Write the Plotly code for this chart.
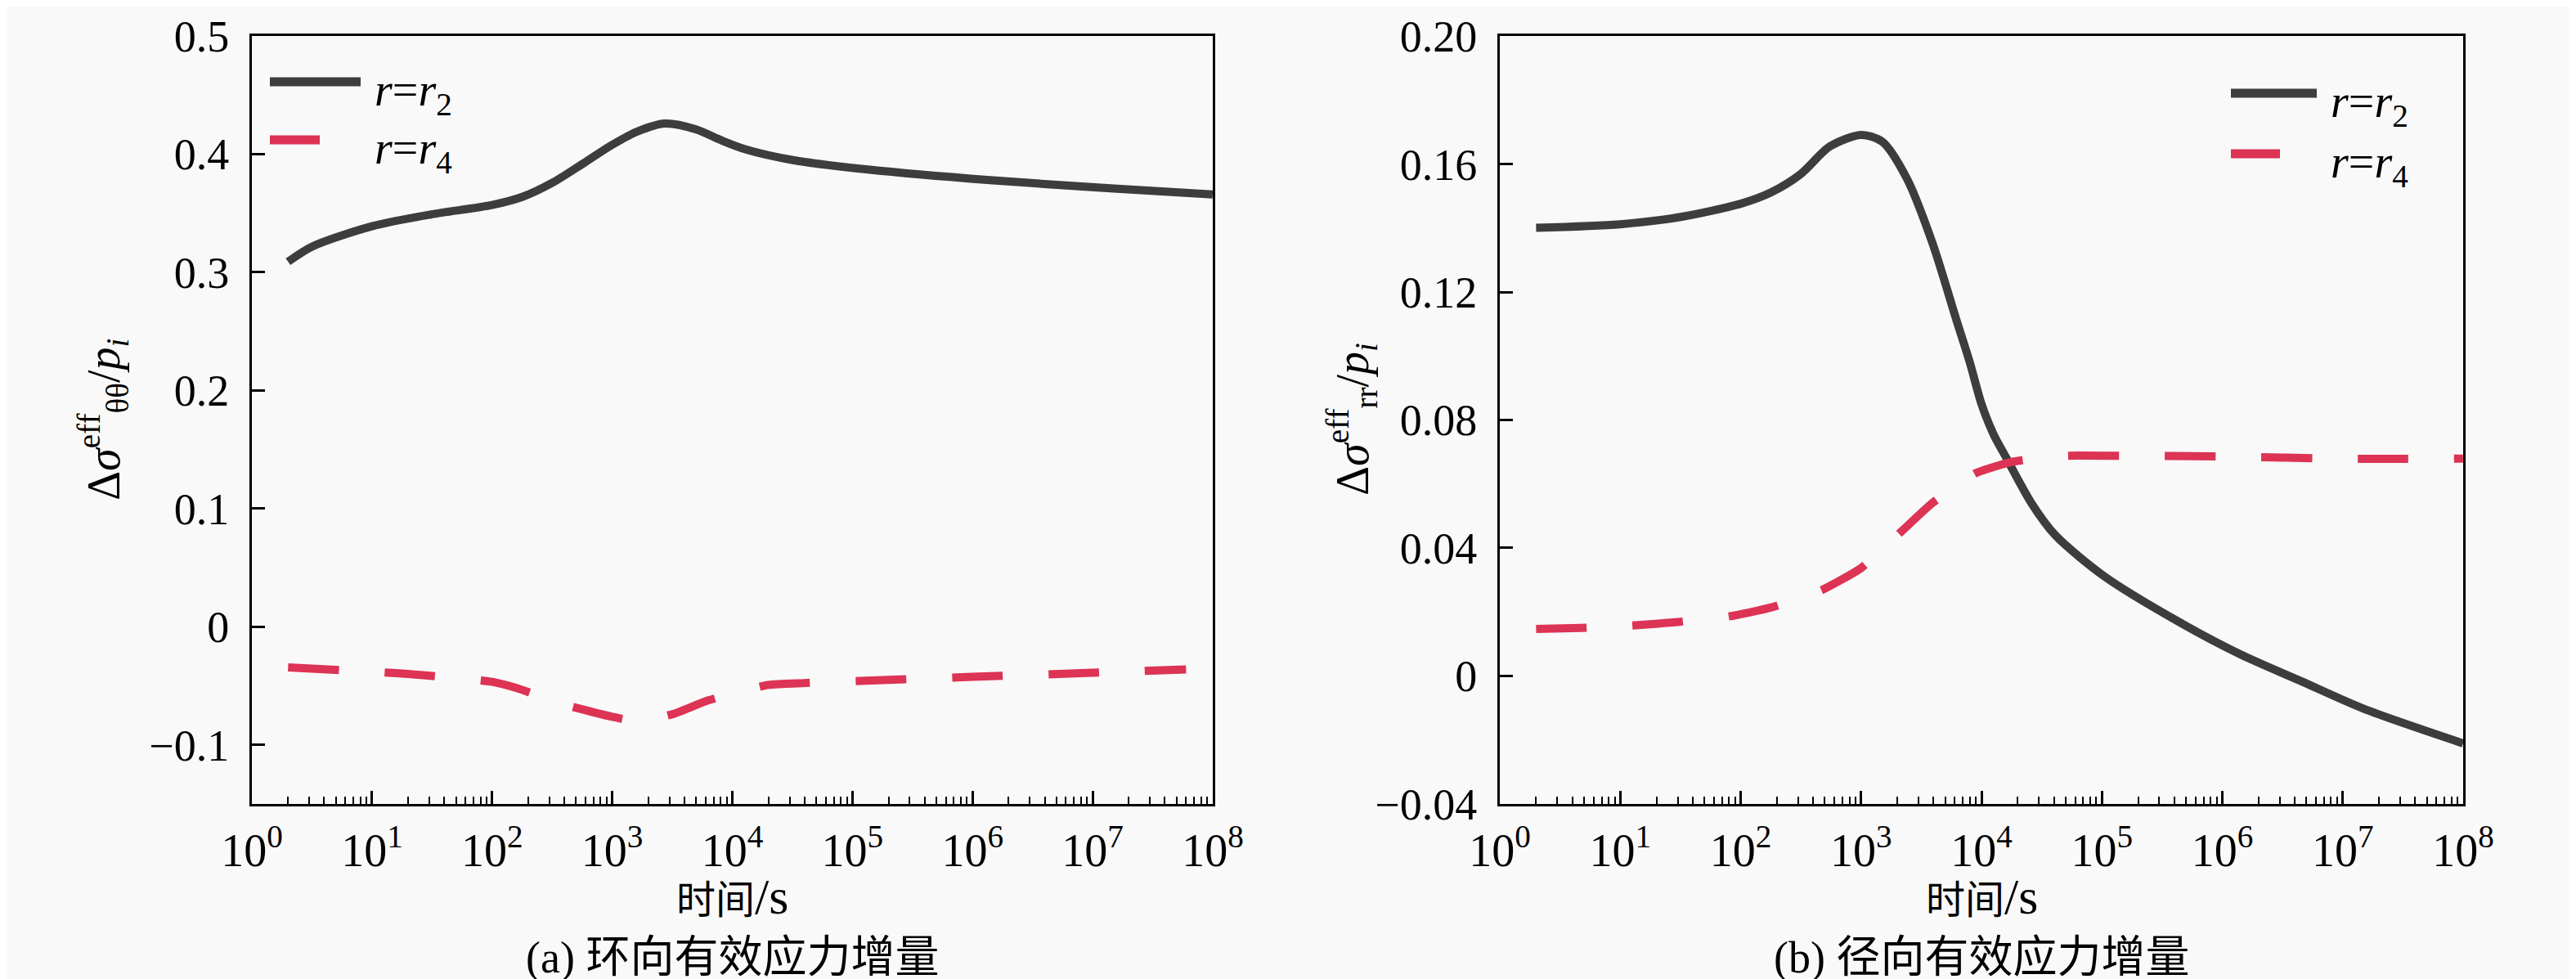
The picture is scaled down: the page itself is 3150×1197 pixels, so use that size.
import plotly.graph_objects as go

# ---- data ----
# (a) hoop effective stress increment
t_a_r2 = [2, 3.2, 10, 31, 100, 180, 320, 590, 1000, 1600, 2750, 5000, 8000, 1.3e4, 3.2e4, 1.35e5, 1.4e6, 1.5e7, 1e8]
s_a_r2 = [0.309, 0.322, 0.339, 0.349, 0.357, 0.364, 0.376, 0.393, 0.408, 0.419, 0.426, 0.421, 0.412, 0.404, 0.395, 0.387, 0.378, 0.371, 0.366]

t_a_r4 = [2, 20, 100, 160, 400, 1000, 1600, 3200, 6300, 2e4, 4e4, 2e5, 1e6, 1e7, 6e7]
s_a_r4 = [-0.0345, -0.040, -0.0467, -0.052, -0.066, -0.0763, -0.080, -0.074, -0.0624, -0.0493, -0.0477, -0.0451, -0.0425, -0.039, -0.0362]

# (b) radial effective stress increment
t_b_r2 = [2, 10, 31, 100, 180, 316, 550, 1000, 1500, 2400, 3900, 6200, 8000, 1e4, 1.26e4, 1.6e4, 2.6e4, 4.1e4, 1.05e5, 4.4e5, 1.4e6, 4.6e6, 1.5e7, 1e8]
s_b_r2 = [0.1401, 0.1412, 0.1434, 0.1476, 0.1512, 0.1569, 0.1655, 0.1691, 0.1670, 0.1555, 0.1355, 0.1112, 0.098, 0.0850, 0.0755, 0.0683, 0.0540, 0.0440, 0.0311, 0.0168, 0.0068, -0.0018, -0.0103, -0.0211]

t_b_r4 = [2, 4.7, 12, 29, 80, 180, 470, 1000, 2100, 3900, 8900, 1.8e4, 5e4, 1.3e5, 1e6, 1e7, 1e8]
s_b_r4 = [0.0147, 0.0150, 0.0157, 0.0168, 0.0186, 0.0214, 0.0268, 0.0337, 0.0447, 0.0540, 0.0633, 0.0669, 0.0688, 0.0688, 0.0686, 0.0679, 0.0679]

yticks_a = [-0.1, 0, 0.1, 0.2, 0.3, 0.4, 0.5]
ytext_a = ["\u22120.1", "0", "0.1", "0.2", "0.3", "0.4", "0.5"]
yticks_b = [-0.04, 0, 0.04, 0.08, 0.12, 0.16, 0.20]
ytext_b = ["\u22120.04", "0", "0.04", "0.08", "0.12", "0.16", "0.20"]
decades = list(range(0, 9))

W, H = 3150, 1197
FONT = "Liberation Serif, Times New Roman, Noto Sans CJK SC"
CJK = "Liberation Serif, Noto Sans CJK SC"
GRAY = "#3d3d3d"
RED = "#dd3354"
BG = "#f9f9f9"

fig = go.Figure()

line_solid = dict(color=GRAY, width=10, shape="spline", smoothing=0.8)
line_dash = dict(color=RED, width=10, dash="62px,56px", shape="spline", smoothing=0.5)

fig.add_trace(go.Scatter(x=t_a_r2, y=s_a_r2, mode="lines", line=line_solid, xaxis="x", yaxis="y", showlegend=False))
fig.add_trace(go.Scatter(x=t_a_r4, y=s_a_r4, mode="lines", line=line_dash, xaxis="x", yaxis="y", showlegend=False))
fig.add_trace(go.Scatter(x=t_b_r2, y=s_b_r2, mode="lines", line=line_solid, xaxis="x2", yaxis="y2", showlegend=False))
fig.add_trace(go.Scatter(x=t_b_r4, y=s_b_r4, mode="lines", line=line_dash, xaxis="x2", yaxis="y2", showlegend=False))

tickvals_x = [10 ** d for d in decades]
ticktext_x = ["10<sup>%d</sup>" % d for d in decades]
minor_x = [m * 10 ** d for d in decades[:-1] for m in range(2, 10)]

xcommon = dict(
    type="log", range=[-0.0005, 8.0005], tickmode="array", tickvals=tickvals_x, ticktext=ticktext_x,
    ticks="inside", ticklen=16, tickwidth=2.5, tickcolor="black",
    minor=dict(tickmode="array", tickvals=minor_x, ticks="inside", ticklen=9, tickwidth=2, tickcolor="black", showgrid=False),
    showline=True, linecolor="black", linewidth=3, mirror=True, showgrid=False, zeroline=False,
    tickfont=dict(family=FONT, size=56, color="black"), ticklabelstandoff=6, automargin=False,
    ticklabeloverflow="allow",
)
ycommon = dict(
    ticks="inside", ticklen=16, tickwidth=2.5, tickcolor="black",
    showline=True, linecolor="black", linewidth=3, mirror=True, showgrid=False, zeroline=False,
    tickfont=dict(family=FONT, size=54, color="black"), ticklabelstandoff=14, automargin=False,
    ticklabeloverflow="allow",
)

ydom = [1 - 975 / H, 1 - 36 / H]
fig.update_layout(
    width=W, height=H,
    margin=dict(l=0, r=0, t=0, b=0, autoexpand=False),
    paper_bgcolor=BG, plot_bgcolor=BG,
    xaxis=dict(domain=[300 / W, 1475 / W], anchor="y", **xcommon),
    yaxis=dict(domain=ydom, anchor="x", range=[-0.1501, 0.5001], tickmode="array", tickvals=yticks_a, ticktext=ytext_a, **ycommon),
    xaxis2=dict(domain=[1826 / W, 3004 / W], anchor="y2", **xcommon),
    yaxis2=dict(domain=ydom, anchor="x2", range=[-0.04005, 0.20005], tickmode="array", tickvals=yticks_b, ticktext=ytext_b, **ycommon),
)

ann = []
# axis titles and captions
xtitle = '时间<span style="font-size:62px">/s</span>'
for cx, ylab, cap, lx in [
    ((300 + 1475) / 2, "\u0394<i>\u03c3</i><sup>eff</sup><sub>\u03b8\u03b8</sub>/<i>p</i><sub><i>i</i></sub>", "(a) 环向有效应力增量", 118),
    ((1826 + 3004) / 2, "\u0394<i>\u03c3</i><sup>eff</sup><sub>rr</sub>/<i>p</i><sub><i>i</i></sub>", "(b) 径向有效应力增量", 1645),
]:
    ann.append(dict(x=cx / W, y=1 - 1088 / H, xref="paper", yref="paper", text=xtitle, showarrow=False,
                    xanchor="center", yanchor="middle", font=dict(family=CJK, size=48, color="black")))
    ann.append(dict(x=cx / W, y=1 - 1163 / H, xref="paper", yref="paper", text=cap, showarrow=False,
                    xanchor="center", yanchor="middle", font=dict(family=CJK, size=54, color="black")))
    ann.append(dict(x=lx / W, y=1 - 505 / H, xref="paper", yref="paper", text=ylab, showarrow=False, textangle=-90,
                    xanchor="center", yanchor="middle", font=dict(family=FONT, size=56, color="black")))

# legends (drawn by hand so the line samples have the original length)
shapes = []
for x0, x1s, x1d, ys, yd, tx, tys, tyd in [
    (322, 433, 383, 92, 163, 448, 106, 177),
    (2720, 2825, 2780, 106, 180, 2840, 120, 194),
]:
    shapes.append(dict(type="line", xref="paper", yref="paper", x0=x0 / W, x1=x1s / W, y0=1 - ys / H, y1=1 - ys / H,
                       line=dict(color=GRAY, width=11)))
    shapes.append(dict(type="line", xref="paper", yref="paper", x0=x0 / W, x1=x1d / W, y0=1 - yd / H, y1=1 - yd / H,
                       line=dict(color=RED, width=11)))
    ann.append(dict(x=tx / W, y=1 - tys / H, xref="paper", yref="paper", text="<i>r</i>=<i>r</i><sub>2</sub>",
                    showarrow=False, xanchor="left", yanchor="middle", font=dict(family=FONT, size=56, color="black")))
    ann.append(dict(x=tx / W, y=1 - tyd / H, xref="paper", yref="paper", text="<i>r</i>=<i>r</i><sub>4</sub>",
                    showarrow=False, xanchor="left", yanchor="middle", font=dict(family=FONT, size=56, color="black")))

fig.update_layout(annotations=ann, shapes=shapes)

fig.write_html("out.html")
